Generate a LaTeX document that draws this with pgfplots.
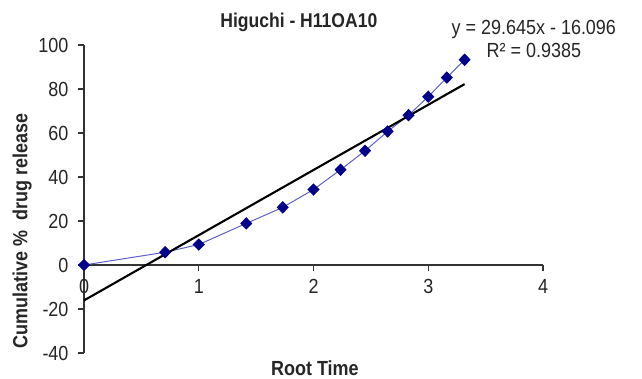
\documentclass[border=0pt]{standalone}
\usepackage{fontspec}
\setmainfont{Liberation Sans}[FakeStretch=0.88]
\usepackage{pgfplots}
\pgfplotsset{compat=1.18}
\definecolor{navyblue}{HTML}{00008B}
\definecolor{linepurple}{HTML}{5F5FC8}
\begin{document}
\begin{tikzpicture}
\useasboundingbox (0,0) rectangle (642bp,379bp);
\begin{axis}[
  at={(84bp,26bp)}, anchor=south west,
  scale only axis, width=459bp, height=308bp,
  xmin=0, xmax=4, ymin=-40, ymax=100,
  axis y line=left, axis x line=middle,
  axis line style={-, line width=1.3bp, black!80},
  hide obscured x ticks=false, hide obscured y ticks=false,
  xtick={0,1,2,3,4}, ytick={-40,-20,0,20,40,60,80,100},
  tick align=outside, major tick length=6bp,
  tick style={line width=1.3bp, black!80},
  /pgf/number format/assume math mode=true,
  ticklabel style={font=\fontsize{20.5}{22}\selectfont, text=black!85},
  xticklabel style={yshift=-5bp},
  yticklabel style={xshift=-6bp},
  clip=false,
]
\addplot[linepurple, line width=1bp, mark=diamond*, mark size=5.5bp,
  mark options={draw=navyblue, fill=navyblue, solid, xscale=1.3}] coordinates {
  (0,0) (0.707,5.8) (1,9.3) (1.414,18.9) (1.732,26.2) (2,34.3) (2.236,43.3)
  (2.449,51.9) (2.646,60.7) (2.828,68.1) (3,76.5) (3.162,85.2) (3.317,93.3)
};
\addplot[black, line width=2.1bp] coordinates {(0,-16.096) (3.317,82.234)};
\node[font=\bfseries\fontsize{20}{22}\selectfont, text=black!85] at (axis description cs:0.468,1.072) {Higuchi - H11OA10};
\node[font=\fontsize{20.5}{23}\selectfont, align=center, text=black!85] at (axis description cs:0.980,1.021) {y = 29.645x - 16.096\\R² = 0.9385};
\node[font=\bfseries\fontsize{20.5}{22}\selectfont, rotate=90, text=black!85] at (axis description cs:-0.135,0.396) {Cumulative \%\ \ drug release};
\node[font=\bfseries\fontsize{20.5}{22}\selectfont, text=black!85] at (axis description cs:0.503,-0.049) {Root Time};
\end{axis}
\end{tikzpicture}
\end{document}
